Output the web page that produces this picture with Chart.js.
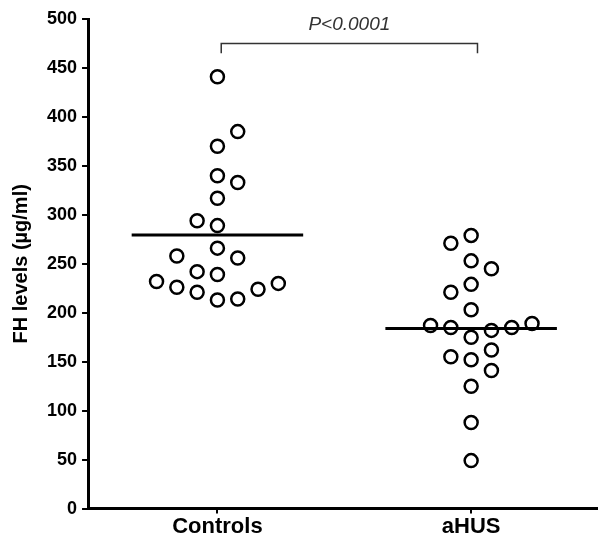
<!DOCTYPE html>
<html>
<head>
<meta charset="utf-8">
<script src="https://cdn.jsdelivr.net/npm/chart.js@4"></script>
<style>
  html, body { margin: 0; padding: 0; background: #fff; }
  #wrap { width: 598px; height: 543px; }
</style>
</head>
<body>
<div id="wrap"><canvas id="fh"></canvas></div>
<script>
const categories = ['Controls', 'aHUS']

// FH levels (ug/ml)
const controlsValues = [441, 385, 370, 340, 333, 317, 294, 289, 266, 258, 256, 242, 239, 232, 226, 221, 213, 214, 224, 230]
const ahusValues = [279, 271, 253, 245, 229, 221, 203, 187, 185, 182, 185, 189, 175, 162, 155, 152, 141, 125, 88, 49]

// beeswarm column of each point (0 = centre of the group)
const controlsCols = [0, 1, 0, 0, 1, 0, -1, 0, 0, -2, 1, -1, 0, -3, -2, -1, 0, 1, 2, 3]
const ahusCols = [0, -1, 0, 1, 0, -1, 0, -2, -1, 1, 2, 3, 0, 1, -1, 0, 1, 0, 0, 0]

const yTicks = [0, 50, 100, 150, 200, 250, 300, 350, 400, 450, 500]
const pLabel = 'P<0.0001'

const font = 'Arial, "Liberation Sans", sans-serif'
const colWidth = 0.08
const meanHalf = 0.338

const toPoints = (values, cols, centre) =>
    values.map((v, i) => ({ x: centre + cols[i] * colWidth, y: v }))

const mean = arr => arr.reduce((a, b) => a + b, 0) / arr.length

const meanLine = (values, centre) => {
    const m = mean(values)
    return [{ x: centre - meanHalf, y: m }, { x: centre + meanHalf, y: m }]
}

const dotStyle = {
    type: 'scatter',
    pointRadius: 6.5,
    pointHoverRadius: 6.5,
    pointBorderWidth: 2.5,
    pointBorderColor: '#000',
    pointBackgroundColor: '#fff',
    order: 2
}

const lineStyle = {
    type: 'line',
    showLine: true,
    borderColor: '#000',
    borderWidth: 3,
    pointRadius: 0,
    order: 1
}

const bracket = {
    id: 'bracket',
    afterDatasetsDraw(chart) {
        const { ctx, scales } = chart
        const x1 = scales.x.getPixelForValue(0.515)
        const x2 = scales.x.getPixelForValue(1.525)
        const yTop = scales.y.getPixelForValue(475)
        const yEnd = scales.y.getPixelForValue(465)
        ctx.save()
        ctx.strokeStyle = '#333'
        ctx.lineWidth = 1.5
        ctx.beginPath()
        ctx.moveTo(x1, yEnd)
        ctx.lineTo(x1, yTop)
        ctx.lineTo(x2, yTop)
        ctx.lineTo(x2, yEnd)
        ctx.stroke()
        ctx.fillStyle = '#333'
        ctx.font = 'italic 19px ' + font
        ctx.textAlign = 'center'
        ctx.textBaseline = 'middle'
        ctx.fillText(pLabel, (x1 + x2) / 2, scales.y.getPixelForValue(494))
        ctx.restore()
    }
}

new Chart(document.getElementById('fh'), {
    type: 'scatter',
    data: {
        datasets: [
            { ...dotStyle, label: categories[0], data: toPoints(controlsValues, controlsCols, 0.5) },
            { ...dotStyle, label: categories[1], data: toPoints(ahusValues, ahusCols, 1.5) },
            { ...lineStyle, label: 'mean ' + categories[0], data: meanLine(controlsValues, 0.5) },
            { ...lineStyle, label: 'mean ' + categories[1], data: meanLine(ahusValues, 1.5) }
        ]
    },
    options: {
        responsive: true,
        maintainAspectRatio: false,
        animation: false,
        layout: { autoPadding: false, padding: { top: 19, left: 9, right: 0, bottom: 3 } },
        plugins: {
            legend: { display: false },
            tooltip: { enabled: false }
        },
        scales: {
            x: {
                type: 'linear',
                min: -0.01,
                max: 2,
                afterBuildTicks: scale => {
                    scale.ticks = categories.map((c, i) => ({ value: i + 0.5 }))
                },
                ticks: {
                    color: '#000',
                    padding: 0,
                    font: { family: font, size: 22, weight: 'bold', lineHeight: 1.2 },
                    callback: (v, i) => categories[i]
                },
                grid: { drawOnChartArea: false, drawTicks: true, tickLength: 5, color: '#000', lineWidth: 2 },
                border: { color: '#000', width: 3 }
            },
            y: {
                min: 0,
                max: 500,
                afterBuildTicks: scale => {
                    scale.ticks = yTicks.map(v => ({ value: v }))
                },
                ticks: {
                    color: '#000',
                    padding: 5,
                    font: { family: font, size: 18, weight: 'bold' }
                },
                grid: { drawOnChartArea: false, drawTicks: true, tickLength: 6, color: '#000', lineWidth: 2 },
                border: { color: '#000', width: 3 },
                title: {
                    display: true,
                    text: 'FH levels (µg/ml)',
                    color: '#000',
                    padding: { top: 0, bottom: 9 },
                    font: { family: font, size: 20, weight: 'bold' }
                }
            }
        }
    },
    plugins: [bracket]
});
</script>
</body>
</html>
